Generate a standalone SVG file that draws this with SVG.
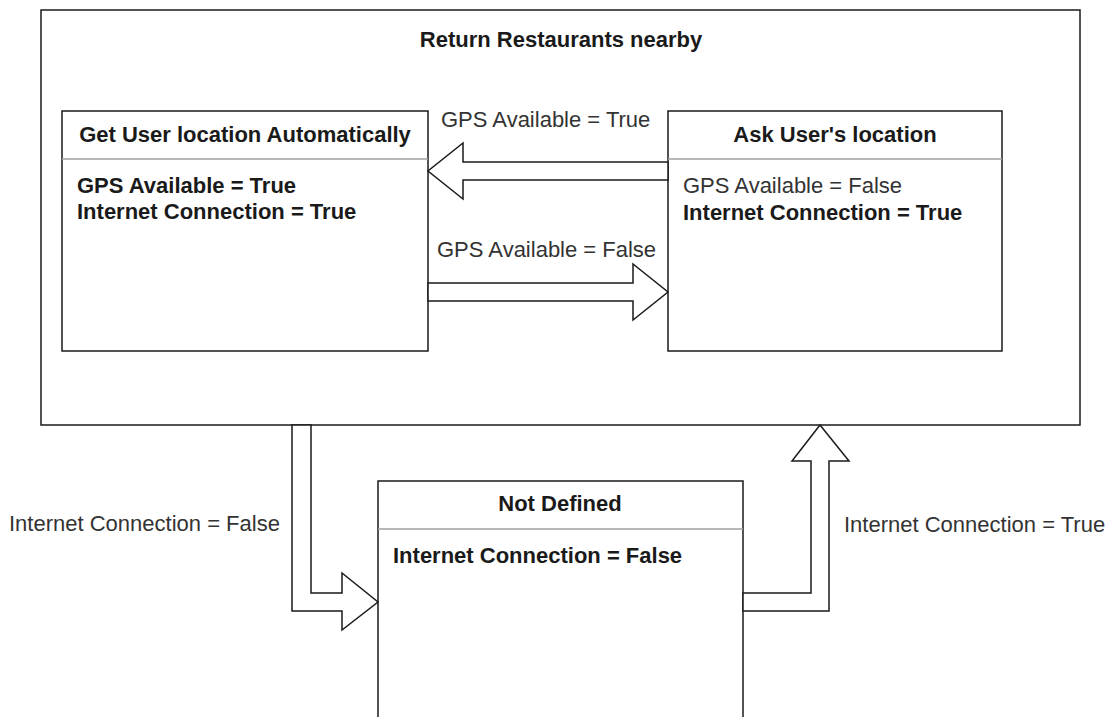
<svg xmlns="http://www.w3.org/2000/svg" width="1113" height="717" viewBox="0 0 1113 717">
  <style>
    .box { fill: #ffffff; stroke: #1a1a1a; stroke-width: 1.5; }
    .sep { stroke: #a0a0a0; stroke-width: 1.5; }
    .arrow { fill: #ffffff; stroke: #1a1a1a; stroke-width: 1.5; stroke-linejoin: miter; }
    text { font-family: "Liberation Sans", Arial, sans-serif; font-size: 22px; }
    .title { font-weight: bold; fill: #1a1a1a; text-anchor: middle; }
    .bold { font-weight: bold; fill: #1a1a1a; }
    .plain { fill: #333333; }
  </style>
  <rect width="1113" height="717" fill="#ffffff"/>

  <!-- container: restaurant lookup -->
  <g id="return-restaurants">
    <rect class="box" x="41" y="10" width="1039" height="415"/>
    <text class="title" x="561" y="47">Return Restaurants nearby</text>
  </g>

  <!-- state: automatic location -->
  <g id="get-location-auto">
    <rect class="box" x="62" y="111" width="366" height="240"/>
    <line class="sep" x1="62" y1="159" x2="428" y2="159"/>
    <text class="title" x="245" y="142">Get User location Automatically</text>
    <text class="bold" x="77" y="193">GPS Available = True</text>
    <text class="bold" x="77" y="219">Internet Connection = True</text>
  </g>

  <!-- state: manual location -->
  <g id="ask-location">
    <rect class="box" x="668" y="111" width="334" height="240"/>
    <line class="sep" x1="668" y1="159" x2="1002" y2="159"/>
    <text class="title" x="835" y="142">Ask User's location</text>
    <text class="plain" x="683" y="193">GPS Available = False</text>
    <text class="bold" x="683" y="220">Internet Connection = True</text>
  </g>

  <!-- state: offline -->
  <g id="not-defined">
    <rect class="box" x="378" y="481" width="365" height="300"/>
    <line class="sep" x1="378" y1="529" x2="743" y2="529"/>
    <text class="title" x="560" y="511">Not Defined</text>
    <text class="bold" x="393" y="563">Internet Connection = False</text>
  </g>

  <!-- transitions (block arrows) -->
  <g id="connectors">
    <polygon class="arrow" points="668,162 463,162 463,143 428,171 463,199 463,180 668,180"/>
    <text class="plain" x="441" y="127">GPS Available = True</text>

    <polygon class="arrow" points="428,283 633,283 633,264 668,292 633,320 633,301 428,301"/>
    <text class="plain" x="437" y="257">GPS Available = False</text>

    <polygon class="arrow" points="292,425 311,425 311,593 342,593 342,573 378,602 342,630 342,611 292,611"/>
    <text class="plain" x="9" y="531">Internet Connection = False</text>

    <polygon class="arrow" points="743,593 811,593 811,461 792,461 820,425 849,461 829,461 829,611 743,611"/>
    <text class="plain" x="844" y="532">Internet Connection = True</text>
  </g>
</svg>
